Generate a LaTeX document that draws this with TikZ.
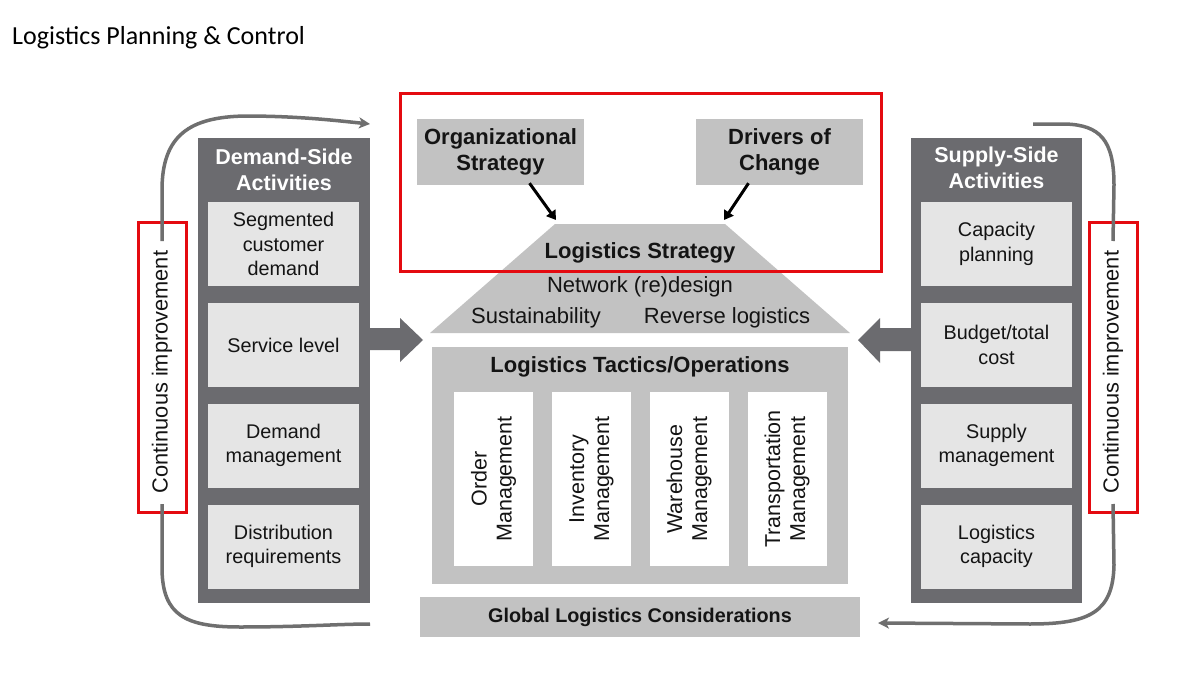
\documentclass[tikz,border=0pt]{standalone}
\usepackage{fontspec}
\setmainfont{Liberation Sans}
\newfontfamily\titlefont{Carlito}
\usetikzlibrary{arrows.meta}
\newcommand\myfs[2]{\fontsize{#1}{#2}\selectfont}
\definecolor{darkcol}{HTML}{6B6B6F}
\definecolor{lightbox}{HTML}{E5E5E5}
\definecolor{midgray}{HTML}{C2C2C2}
\definecolor{arcgray}{HTML}{6F6F6F}
\definecolor{redline}{RGB}{228,10,16}
\definecolor{txt}{HTML}{141414}
\tikzset{
  darkcolumn/.style={fill=darkcol, draw=none, inner sep=0pt, minimum width=172pt, minimum height=465pt},
  colhead/.style={text=white, font=\bfseries\myfs{21.5}{26}, align=center, inner sep=0pt},
  actbox/.style={fill=lightbox, draw=none, inner sep=0pt, minimum width=151pt, minimum height=84pt, align=center, text=txt, font=\myfs{19.8}{24.5}},
  redbox/.style={draw=redline, line width=3pt, inner sep=0pt, minimum width=48pt, minimum height=290pt},
  cilabel/.style={rotate=90, text=txt, font=\myfs{21.8}{24}, inner sep=0pt},
  graybox/.style={fill=midgray, draw=none, inner sep=0pt, align=center, text=txt},
  whitebox/.style={fill=white, draw=none, inner sep=0pt, minimum width=79pt, minimum height=174pt},
  opslabel/.style={rotate=90, align=center, text=txt, font=\myfs{21.5}{25}, inner sep=0pt},
  arcline/.style={draw=arcgray, line width=3.5pt},
  arcarrow/.style={arcline, -{Stealth[length=11pt,width=11pt,inset=3pt]}},
  blackarrow/.style={draw=black, line width=3pt, -{Triangle[length=9pt,width=11pt]}},
  fatarrow/.style={fill=darkcol, draw=none},
  plaintext/.style={text=txt, inner sep=0pt}
}
\begin{document}
\begin{tikzpicture}[x=1pt,y=-1pt]
\useasboundingbox (0,0) rectangle (1200,677);
\fill[white] (0,0) rectangle (1200,677);

% title
\node[anchor=base west, inner sep=0pt, font=\titlefont\myfs{26}{30}, text=black] (title) at (12,45) {Logistics Planning \& Control};

% left column
\node[darkcolumn] (demcol) at (284,370.5) {};
\node[colhead] (demhead) at (284,170) {Demand-Side\\Activities};
\node[actbox] (d1) at (283.5,244) {Segmented\\customer\\demand};
\node[actbox] (d2) at (283.5,345) {Service level};
\node[actbox] (d3) at (283.5,445.5) {Demand\\management};
\node[actbox] (d4) at (283.5,546.5) {Distribution\\requirements};

% right column
\node[darkcolumn, minimum width=171pt] (supcol) at (996.5,370.5) {};
\node[colhead] (suphead) at (996.5,168) {Supply-Side\\Activities};
\node[actbox] (s1) at (996.5,244) {Capacity\\planning};
\node[actbox] (s2) at (996.5,345) {Budget/total\\cost};
\node[actbox] (s3) at (996.5,445.5) {Supply\\management};
\node[actbox] (s4) at (996.5,546.5) {Logistics\\capacity};

% continuous improvement boxes
\node[redbox] (ciL) at (162,367.5) {};
\node[cilabel] (ciLt) at (162,372) {Continuous improvement};
\node[redbox] (ciR) at (1113,367.5) {};
\node[cilabel] (ciRt) at (1113,372) {Continuous improvement};

% loop arcs
\coordinate (ltEnd) at (370,124);
\coordinate (lbEnd) at (370,624);
\coordinate (rtStart) at (1033,124);
\coordinate (rbEnd) at (878,623);
\draw[arcarrow] ([yshift=-20pt]ciL.north) -- (162,190) .. controls (162,135) and (190,117) .. (245,116) .. controls (300,116) and (340,121) .. (ltEnd);
\draw[arcline] ([yshift=10pt]ciL.south) -- (162,570) .. controls (163,615) and (185,627) .. (240,627) .. controls (300,627) and (340,624) .. (lbEnd);
\draw[arcline] (rtStart) -- (1065,124) .. controls (1100,125) and (1114,140) .. (1114,185) -- ([yshift=-20pt]ciR.north);
\draw[arcarrow] ([yshift=10pt]ciR.south) -- (1114,565) .. controls (1113,612) and (1090,624) .. (1030,624) -- (rbEnd);

% fat arrows
\fill[fatarrow] (369,328) -- (400,328) -- (400,318) -- (423,340) -- (400,362) -- (400,350) -- (369,350) -- cycle;
\fill[fatarrow] (911,328) -- (880,328) -- (880,318) -- (858,340) -- (880,363) -- (880,351) -- (911,351) -- cycle;

% strategy trapezoid
\fill[midgray] (555,224) -- (725,224) -- (850,333) -- (430,333) -- cycle;
\node[plaintext, font=\bfseries\myfs{22}{26}] (lstrat) at (640,253) {Logistics Strategy};
\node[plaintext, font=\myfs{22}{26}] (netw) at (640,287) {Network (re)design};
\node[plaintext, font=\myfs{22}{26}] (sust) at (536,318) {Sustainability};
\node[plaintext, font=\myfs{22}{26}] (revl) at (727,318) {Reverse logistics};

% org strategy and drivers
\node[graybox, minimum width=167pt, minimum height=66pt, font=\bfseries\myfs{22}{26}] (org) at (500.5,152) {Organizational\\Strategy};
\node[graybox, minimum width=167pt, minimum height=66pt, font=\bfseries\myfs{22}{26}] (drv) at (779.5,152) {Drivers of\\Change};
\coordinate (trapL) at (556,220);
\coordinate (trapR) at (724,220);
\draw[blackarrow] ([xshift=29pt,yshift=2pt]org.south) -- (trapL);
\draw[blackarrow] ([xshift=-31pt,yshift=2pt]drv.south) -- (trapR);

% tactics box
\node[graybox, minimum width=416pt, minimum height=237pt] (tact) at (640,465.5) {};
\node[plaintext, font=\bfseries\myfs{22}{26}] (tacth) at (640,367) {Logistics Tactics/Operations};
\node[whitebox] (w1) at (493.5,479) {};
\node[whitebox] (w2) at (591.5,479) {};
\node[whitebox] (w3) at (689,479) {};
\node[whitebox] (w4) at (787,479) {};
\node[opslabel] (o1) at (w1) {Order\\Management};
\node[opslabel] (o2) at (w2) {Inventory\\Management};
\node[opslabel] (o3) at (w3) {Warehouse\\Management};
\node[opslabel] (o4) at (w4) {Transportation\\Management};

% global bar
\node[graybox, minimum width=440pt, minimum height=40pt, font=\bfseries\myfs{19.8}{23}] (glob) at (640,617) {Global Logistics Considerations};

% big red frame
\draw[draw=redline, line width=3pt] (400,94) rectangle (881,271);
\end{tikzpicture}
\end{document}
